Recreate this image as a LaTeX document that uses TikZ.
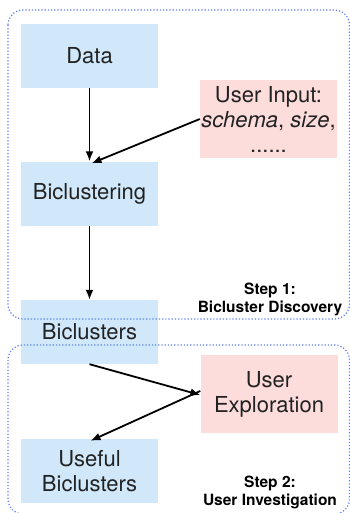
\documentclass[tikz,border=0pt]{standalone}
\usepackage{fontspec}
\setmainfont{TeX Gyre Heros}
\usetikzlibrary{arrows.meta}
\definecolor{boxblue}{HTML}{D0E8FA}
\definecolor{boxpink}{HTML}{FDDCDC}
\definecolor{framblue}{HTML}{5A7DEE}
\definecolor{inktext}{HTML}{222222}
\begin{document}
\begin{tikzpicture}[x=1pt,y=-1pt]
\tikzstyle{every node}+=[inner sep=0pt,text=inktext]
\tikzstyle{stagebox}=[fill=boxblue,minimum width=137pt,minimum height=64pt,align=center,font=\fontsize{22}{25}\selectfont]
\tikzstyle{userbox}=[fill=boxpink,minimum width=137pt,minimum height=78pt,align=center,font=\fontsize{22}{25}\selectfont]
\tikzstyle{flow}=[-{Latex[length=10pt,width=8pt]},line width=1.8pt,black]
\tikzstyle{frame}=[framblue,line width=1.2pt,dotted,rounded corners=15pt]
\tikzstyle{steplabel}=[align=center,font=\fontsize{15.5}{18}\selectfont\bfseries,text=black]
\useasboundingbox (0,0) rectangle (350,513);
% boxes
\node [stagebox] (data) at (89.5,56) {Data};
\node [userbox] (input) at (268.5,119) {User Input:\\\textit{schema}, \textit{size},\\......};
\node [stagebox] (bicl) at (89.5,193.5) {Biclustering};
\node [stagebox] (clusters) at (89.5,332) {Biclusters};
\node [userbox] (explore) at (269,394) {User\\Exploration};
\node [stagebox] (useful) at (89.5,471) {Useful\\Biclusters};
% steps
\draw [frame] (8,10) rectangle (349.5,319);
\draw [frame] (8,345) rectangle (349.5,514);
\node [steplabel] (step1) at (270,299) {Step 1:\\Bicluster Discovery};
\node [steplabel] (step2) at (270,492) {Step 2:\\User Investigation};
% arrows
\draw [flow] (data) -- (bicl);
\draw [flow] (input.west) -- ([xshift=2pt,yshift=-2pt]bicl.north);
\draw [flow] (bicl) -- (clusters);
\draw [flow] (clusters.south) -- ([yshift=-1pt]explore.west);
\draw [flow] ([yshift=3pt]explore.west) -- ([xshift=1pt,yshift=-2pt]useful.north);
\end{tikzpicture}
\end{document}
